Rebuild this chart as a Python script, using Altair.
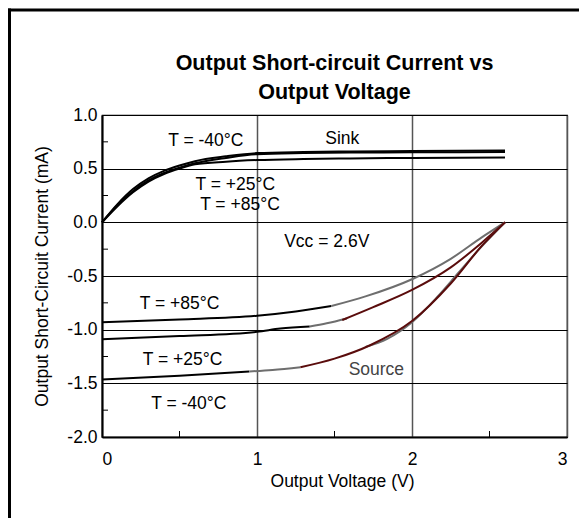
import altair as alt
import pandas as pd

FONT = "Liberation Sans"

# ---- Sink curves (positive current) ----
sink_x = [0, 0.1, 0.2, 0.3, 0.4, 0.5, 0.6, 0.8, 1.0, 1.3, 1.6, 2.0, 2.6]
sink_m40 = [0, 0.17, 0.31, 0.41, 0.48, 0.53, 0.57, 0.615, 0.645, 0.655, 0.66, 0.665, 0.67]
sink_p25 = [0, 0.16, 0.29, 0.39, 0.46, 0.51, 0.55, 0.60, 0.635, 0.645, 0.65, 0.652, 0.655]
sink_p85 = [0, 0.15, 0.28, 0.38, 0.45, 0.50, 0.54, 0.565, 0.58, 0.59, 0.595, 0.60, 0.605]

# ---- Source curves (negative current), drawn as segments of differing colour ----
src85_black_x = [0, 0.5, 1.0, 1.25, 1.48]
src85_black_y = [-0.93, -0.905, -0.87, -0.83, -0.78]
src85_gray_x = [1.48, 1.7, 2.0, 2.25, 2.45, 2.6]
src85_gray_y = [-0.78, -0.69, -0.53, -0.34, -0.14, 0]

src25_black_x = [0, 0.5, 1.0, 1.15, 1.34]
src25_black_y = [-1.09, -1.06, -1.02, -0.99, -0.97]
src25_gray_x = [1.34, 1.45, 1.58]
src25_gray_y = [-0.97, -0.94, -0.895]
src25_red_x = [1.55, 1.75, 2.0, 2.25, 2.45, 2.6]
src25_red_y = [-0.91, -0.79, -0.63, -0.42, -0.19, 0]

srcm40_black_x = [0, 0.5, 0.95]
srcm40_black_y = [-1.465, -1.43, -1.39]
srcm40_gray_x = [0.95, 1.1, 1.28]
srcm40_gray_y = [-1.39, -1.375, -1.35]
srcm40_red_x = [1.28, 1.5, 1.73, 2.0, 2.25, 2.45, 2.6]
srcm40_red_y = [-1.35, -1.27, -1.145, -0.92, -0.57, -0.22, 0]
srcm40_gray2_x = [1.7, 1.84, 2.0, 2.16, 2.3, 2.44, 2.6]
srcm40_gray2_y = [-1.16, -1.085, -0.93, -0.70, -0.47, -0.24, 0]

# ---- Annotations ----
ann_text = ["T = -40°C", "Sink", "T = +25°C", "T = +85°C", "Vcc = 2.6V",
            "T = +85°C", "T = +25°C", "Source", "T = -40°C"]
ann_x = [0.67, 1.55, 0.86, 0.89, 1.45, 0.50, 0.52, 1.77, 0.56]
ann_y = [0.76, 0.78, 0.35, 0.16, -0.18, -0.76, -1.285, -1.38, -1.695]
ann_col = ["black", "black", "black", "black", "black", "black", "black", "#444444", "black"]

# ---- Axes ----
x_ticks = [0, 1, 2, 3]
y_ticks = [-2.0, -1.5, -1.0, -0.5, 0.0, 0.5, 1.0]
x_minor = [0.5, 1.5, 2.5]
y_minor = [0.75, 0.25, -0.25, -0.75, -1.25, -1.75]

W, H = 465, 322

# build tables
sink_rows = []
for name, ys in [("m40", sink_m40), ("p25", sink_p25), ("p85", sink_p85)]:
    for i, (xv, yv) in enumerate(zip(sink_x, ys)):
        sink_rows.append({"x": xv, "y": yv, "seg": "sink_" + name, "col": "#000000", "i": i})
sink_df = pd.DataFrame(sink_rows)

src_rows = []
segs = [
    ("s85b", src85_black_x, src85_black_y, "#000000"),
    ("s85g", src85_gray_x, src85_gray_y, "#6e6e6e"),
    ("s25b", src25_black_x, src25_black_y, "#000000"),
    ("s25g", src25_gray_x, src25_gray_y, "#6e6e6e"),
    ("s25r", src25_red_x, src25_red_y, "#5a0c0c"),
    ("sm40b", srcm40_black_x, srcm40_black_y, "#000000"),
    ("sm40g", srcm40_gray_x, srcm40_gray_y, "#6e6e6e"),
    ("sm40g2", srcm40_gray2_x, srcm40_gray2_y, "#6e6e6e"),
    ("sm40r", srcm40_red_x, srcm40_red_y, "#5a0c0c"),
]
for sid, xs_, ys_, c in segs:
    for i, (xv, yv) in enumerate(zip(xs_, ys_)):
        src_rows.append({"x": xv, "y": yv, "seg": sid, "col": c, "i": i})
src_df = pd.DataFrame(src_rows)

ann_df = pd.DataFrame({"x": ann_x, "y": ann_y, "label": ann_text, "col": ann_col})

xs = alt.Scale(domain=[0, 3], nice=False, zero=False)
ys = alt.Scale(domain=[-2, 1], nice=False, zero=False)
xaxis = alt.Axis(values=x_ticks, title="Output Voltage (V)", format="d", grid=True,
                 ticks=False, labelFlush=True, labelPadding=13, titlePadding=5, titleX=240)
yaxis = alt.Axis(values=y_ticks, title="Output Short-Circuit Current (mA)", format=".1f",
                 labelExpr="datum.value < 0 ? '-' + format(-datum.value, '.1f') : format(datum.value, '.1f')",
                 grid=True, ticks=False, labelPadding=5, titlePadding=15)


def X():
    return alt.X("x:Q", scale=xs, axis=xaxis)


def Y():
    return alt.Y("y:Q", scale=ys, axis=yaxis)


one = pd.DataFrame({"a": [0]})
frame_left = alt.Chart(one).mark_rule(color="black", strokeWidth=3).encode(
    x=alt.value(-92.5), y=alt.value(-106.5), y2=alt.value(H + 90)
)
frame_top = alt.Chart(one).mark_rule(color="black", strokeWidth=3).encode(
    x=alt.value(-94), x2=alt.value(W + 40), y=alt.value(-105)
)

sink = alt.Chart(sink_df).mark_line(strokeWidth=2, interpolate="monotone").encode(
    x=X(), y=Y(), detail="seg:N", order="i:Q", color=alt.Color("col:N", scale=None)
)

source = alt.Chart(src_df).mark_line(strokeWidth=2, interpolate="monotone").encode(
    x=X(), y=Y(), detail="seg:N", order="i:Q", color=alt.Color("col:N", scale=None)
)

ytick = alt.Chart(pd.DataFrame({"y": y_minor})).mark_rule(color="black", strokeWidth=1).encode(
    y=Y(), x=alt.value(0), x2=alt.value(6)
)
xtick = alt.Chart(pd.DataFrame({"x": x_minor})).mark_rule(color="black", strokeWidth=1).encode(
    x=X(), y=alt.value(H), y2=alt.value(H - 6)
)

texts = alt.Chart(ann_df).mark_text(font=FONT, fontSize=17.5, align="center", baseline="middle").encode(
    x=X(), y=Y(), text="label:N", color=alt.Color("col:N", scale=None)
)

chart = alt.layer(frame_left, frame_top, ytick, xtick, sink, source, texts).properties(
    width=W, height=H,
    background="white",
    autosize=alt.AutoSizeParams(type="none"),
    padding={"left": 94, "top": 107, "right": 12, "bottom": 81},
    title=alt.TitleParams(
        text=["Output Short-circuit Current vs", "Output Voltage"],
        font=FONT, fontSize=21.5, fontWeight="bold", anchor="middle",
        lineHeight=29, offset=-96, color="black",
    ),
).configure_view(stroke="black", strokeWidth=1.2).configure_axis(
    labelFont=FONT, labelFontSize=17.5, labelColor="black",
    titleFont=FONT, titleFontSize=17.5, titleFontWeight="normal", titleColor="black",
    domainColor="black", domainWidth=2,
).configure_axisX(gridColor="#555555", gridWidth=1.5, gridOpacity=1).configure_axisY(
    gridColor="black", gridWidth=1, gridOpacity=1
)

chart.save("out.html", embed_options={"renderer": "svg", "actions": False})
